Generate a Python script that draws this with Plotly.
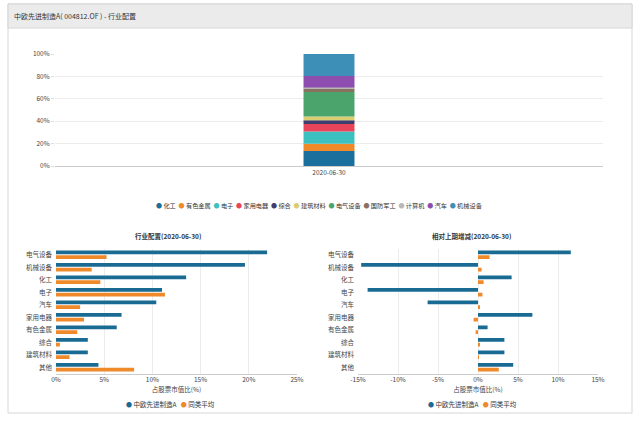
import plotly.graph_objects as go

W, H = 640, 421

# ---------------- data ----------------
report_date = ["2020-06-30"]
top_categories = ["化工", "有色金属", "电子", "家用电器", "综合", "建筑材料",
                  "电气设备", "国防军工", "计算机", "汽车", "机械设备"]
top_values = [13.5, 6.3, 11.0, 6.8, 3.3, 3.3, 21.9, 2.9, 1.0, 10.4, 19.6]
top_colors = ["#1a6f9c", "#f0892a", "#3cc0c0", "#e8455a", "#3f3d6e", "#d9cf72",
              "#4aa46c", "#8a7060", "#b8b8b8", "#8e4eaf", "#3e8fb8"]

bottom_categories = ["电气设备", "机械设备", "化工", "电子", "汽车", "家用电器",
                     "有色金属", "综合", "建筑材料", "其他"]
fund_share = [21.9, 19.6, 13.5, 11.0, 10.4, 6.8, 6.3, 3.3, 3.3, 4.4]
peer_share = [5.25, 3.7, 4.6, 11.3, 2.5, 2.9, 2.2, 0.4, 1.4, 8.1]
fund_change = [11.6, -14.6, 4.2, -13.8, -6.3, 6.8, 1.2, 3.3, 3.3, 4.4]
peer_change = [1.45, 0.45, 0.7, 0.55, 0.15, -0.55, -0.3, 0.15, 0.05, 2.6]
series_names = ["中欧先进制造A", "同类平均"]
series_colors = ["#1a6b94", "#f0892a"]

top_ticks = [0, 20, 40, 60, 80, 100]
top_ticklabels = ["0%", "20%", "40%", "60%", "80%", "100%"]
left_ticks = [0, 5, 10, 15, 20, 25]
left_ticklabels = ["0%", "5%", "10%", "15%", "20%", "25%"]
right_ticks = [-15, -10, -5, 0, 5, 10, 15]
right_ticklabels = ["-15%", "-10%", "-5%", "0%", "5%", "10%", "15%"]

title_text = "中欧先进制造A( 004812.OF ) - 行业配置"
left_title = "行业配置(2020-06-30)"
right_title = "相对上期增减(2020-06-30)"
axis_title = "占股票市值比(%)"

FONT = "Noto Sans CJK SC, Noto Sans, sans-serif"


def px(x):
    return x / W


def py(y):
    return 1 - y / H


fig = go.Figure()

# top stacked bar
for name, val, col in zip(top_categories, top_values, top_colors):
    fig.add_trace(go.Bar(x=report_date, y=[val], name=name, marker_color=col,
                         marker_line_width=0, width=0.093, offsetgroup="t",
                         xaxis="x", yaxis="y", showlegend=False))

# bottom left
for name, vals, col, g in zip(series_names, [fund_share, peer_share], series_colors, ["a", "b"]):
    fig.add_trace(go.Bar(y=bottom_categories, x=vals, orientation="h", name=name,
                         marker_color=col, marker_line_width=0, offsetgroup=g,
                         xaxis="x2", yaxis="y2", showlegend=False))
# bottom right
for name, vals, col, g in zip(series_names, [fund_change, peer_change], series_colors, ["a", "b"]):
    fig.add_trace(go.Bar(y=bottom_categories, x=vals, orientation="h", name=name,
                         marker_color=col, marker_line_width=0, offsetgroup=g,
                         xaxis="x3", yaxis="y3", showlegend=False))

tickfont = dict(family=FONT, size=6.5, color="#444")
grid = "#ececec"
atitle = dict(text=axis_title, font=dict(family=FONT, size=6.5, color="#444"), standoff=2)

fig.update_layout(
    width=W, height=H, autosize=False,
    margin=dict(l=0, r=0, t=0, b=0, autoexpand=False),
    paper_bgcolor="white", plot_bgcolor="white",
    font=dict(family=FONT, size=7, color="#333"),
    barmode="relative", bargap=0.24, bargroupgap=0.16,
    showlegend=False,
    xaxis=dict(domain=[px(55), px(603)], type="category", range=[-0.5, 0.5],
               showgrid=False, showline=True, linecolor="#cccccc", linewidth=1,
               ticks="", tickfont=tickfont, anchor="y", automargin=False),
    yaxis=dict(domain=[py(166), py(54)], range=[0, 100],
               tickvals=top_ticks, ticktext=top_ticklabels,
               showgrid=True, gridcolor=grid, zeroline=False, showline=False,
               ticks="outside", ticklen=3, tickcolor="#dddddd",
               tickfont=tickfont, anchor="x", automargin=False),
    xaxis2=dict(domain=[px(56), px(297)], range=[0, 25],
                tickvals=left_ticks, ticktext=left_ticklabels,
                showgrid=True, gridcolor=grid, zeroline=False, showline=True,
                linecolor="#cccccc", ticks="", tickfont=tickfont, anchor="y2",
                title=atitle, automargin=False),
    yaxis2=dict(domain=[py(373.5), py(248.5)], autorange="reversed", type="category",
                showgrid=False, showline=False, ticks="", ticklabelstandoff=3,
                tickfont=tickfont, anchor="x2", automargin=False),
    xaxis3=dict(domain=[px(358), px(598)], range=[-15, 15],
                tickvals=right_ticks, ticktext=right_ticklabels,
                showgrid=True, gridcolor=grid, zeroline=False, showline=True,
                linecolor="#cccccc", ticks="", tickfont=tickfont, anchor="y3",
                title=atitle, automargin=False),
    yaxis3=dict(domain=[py(373.5), py(248.5)], autorange="reversed", type="category",
                showgrid=False, showline=False, ticks="", ticklabelstandoff=3,
                tickfont=tickfont, anchor="x3", automargin=False),
)

# frame: title bar and panel border
fig.add_shape(type="rect", xref="paper", yref="paper", x0=px(8), x1=px(632),
              y0=py(413), y1=py(4), line=dict(color="#d6d6d6", width=1),
              fillcolor="rgba(0,0,0,0)", layer="below")
fig.add_shape(type="rect", xref="paper", yref="paper", x0=px(8), x1=px(632),
              y0=py(28), y1=py(4), line=dict(color="#d6d6d6", width=1),
              fillcolor="#ebebeb", layer="below")

fig.add_annotation(text=title_text, xref="paper", yref="paper", x=px(12), y=py(16),
                   xanchor="left", yanchor="middle", showarrow=False,
                   font=dict(family=FONT, size=7, color="#333"))
fig.add_annotation(text="<b>" + left_title + "</b>", xref="paper", yref="paper",
                   x=px(168), y=py(236), xanchor="center", yanchor="middle", showarrow=False,
                   font=dict(family=FONT, size=6.5, color="#333"))
fig.add_annotation(text="<b>" + right_title + "</b>", xref="paper", yref="paper",
                   x=px(471), y=py(236), xanchor="center", yanchor="middle", showarrow=False,
                   font=dict(family=FONT, size=6.5, color="#333"))

SP = "\u00a0"


def legend_html(names, colors, gap):
    parts = []
    for n, c in zip(names, colors):
        parts.append('<span style="color:%s;font-size:6px">●</span>%s%s' % (c, SP, n))
    return (SP * gap).join(parts)


fig.add_annotation(text=legend_html(top_categories, top_colors, 2), xref="paper", yref="paper",
                   x=px(319), y=py(205), xanchor="center", yanchor="middle", showarrow=False,
                   font=dict(family=FONT, size=6.2, color="#333"))
fig.add_annotation(text=legend_html(series_names, series_colors, 3), xref="paper", yref="paper",
                   x=px(170), y=py(404), xanchor="center", yanchor="middle", showarrow=False,
                   font=dict(family=FONT, size=6.5, color="#333"))
fig.add_annotation(text=legend_html(series_names, series_colors, 3), xref="paper", yref="paper",
                   x=px(472), y=py(404), xanchor="center", yanchor="middle", showarrow=False,
                   font=dict(family=FONT, size=6.5, color="#333"))

fig.write_html("out.html")
